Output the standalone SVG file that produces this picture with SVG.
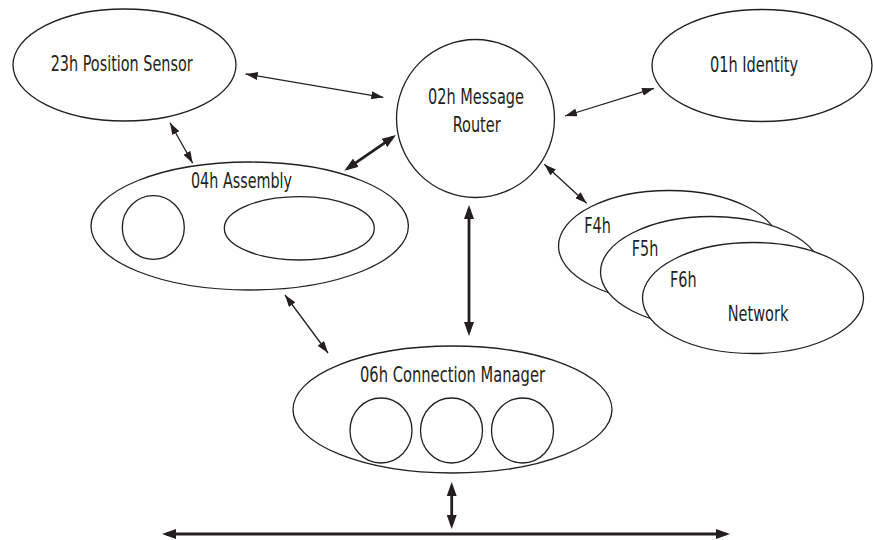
<svg xmlns="http://www.w3.org/2000/svg" width="873" height="540" viewBox="0 0 873 540">
<style>
  .shape { fill: #ffffff; stroke: #231f20; stroke-width: 1.3; }
  .lbl { font-family: "Liberation Sans Narrow", "DejaVu Sans Condensed", "Liberation Sans", sans-serif; font-size: 20.5px; fill: #231f20; }
  .thin { stroke: #231f20; stroke-width: 1.3; fill: none; marker-start: url(#ahThin); marker-end: url(#ahThin); }
  .thick { stroke: #231f20; stroke-width: 2.8; fill: none; marker-start: url(#ahThick); marker-end: url(#ahThick); }
</style>
<defs>
  <marker id="ahThin" viewBox="0 0 12 8" refX="12" refY="4" markerWidth="12" markerHeight="8" markerUnits="userSpaceOnUse" orient="auto-start-reverse">
    <path d="M0,0 L12,4 L0,8 z" fill="#231f20"/>
  </marker>
  <marker id="ahThick" viewBox="0 0 14 10" refX="10" refY="5" markerWidth="14" markerHeight="10" markerUnits="userSpaceOnUse" orient="auto-start-reverse">
    <path d="M0,0 L14,5 L0,10 z" fill="#231f20"/>
  </marker>
</defs>
<rect x="0" y="0" width="873" height="540" fill="#ffffff"/>

<g id="connectors">
  <line class="thin" x1="245.7" y1="74" x2="383.3" y2="97.3"/>
  <line class="thin" x1="170" y1="122.7" x2="192.7" y2="163.3"/>
  <line class="thick" x1="347.6" y1="168.4" x2="392.7" y2="137.3"/>
  <line class="thin" x1="565" y1="116" x2="654" y2="88.3"/>
  <line class="thin" x1="544.3" y1="164.3" x2="586.7" y2="203.3"/>
  <line class="thin" x1="285" y1="295" x2="328" y2="353"/>
  <line class="thick" x1="469" y1="209" x2="469" y2="332"/>
  <line class="thick" x1="451.7" y1="486" x2="451.7" y2="525"/>
  <line class="thick" x1="166" y1="534" x2="726" y2="534"/>
</g>

<g id="position-sensor">
  <ellipse class="shape" cx="124.5" cy="65" rx="111.5" ry="56"/>
  <text class="lbl" x="50.7" y="71" textLength="142" lengthAdjust="spacingAndGlyphs">23h Position Sensor</text>
</g>

<g id="message-router">
  <circle class="shape" cx="475.5" cy="118.5" r="79"/>
  <text class="lbl" x="428" y="104.3" textLength="96" lengthAdjust="spacingAndGlyphs">02h Message</text>
  <text class="lbl" x="452.7" y="131.7" textLength="48" lengthAdjust="spacingAndGlyphs">Router</text>
</g>

<g id="identity">
  <ellipse class="shape" cx="762" cy="65.5" rx="110" ry="56"/>
  <text class="lbl" x="710" y="71.7" textLength="88" lengthAdjust="spacingAndGlyphs">01h Identity</text>
</g>

<g id="assembly">
  <ellipse class="shape" cx="249.7" cy="226" rx="158.7" ry="64"/>
  <ellipse class="shape" cx="153.3" cy="227.5" rx="31" ry="31.8"/>
  <ellipse class="shape" cx="299.3" cy="228.3" rx="75" ry="31.7"/>
  <text class="lbl" x="191" y="188.3" textLength="101" lengthAdjust="spacingAndGlyphs">04h Assembly</text>
</g>

<g id="network-f4h">
  <ellipse class="shape" cx="669" cy="246" rx="110.5" ry="55.5"/>
  <text class="lbl" x="584.3" y="233.3" textLength="26.7" lengthAdjust="spacingAndGlyphs">F4h</text>
</g>
<g id="network-f5h">
  <ellipse class="shape" cx="711" cy="272" rx="110.5" ry="55.5"/>
  <text class="lbl" x="631.7" y="255.7" textLength="26.6" lengthAdjust="spacingAndGlyphs">F5h</text>
</g>
<g id="network-f6h">
  <ellipse class="shape" cx="753" cy="298" rx="110.5" ry="55.5"/>
  <text class="lbl" x="670" y="286.7" textLength="26.7" lengthAdjust="spacingAndGlyphs">F6h</text>
  <text class="lbl" x="727.7" y="320.7" textLength="60.6" lengthAdjust="spacingAndGlyphs">Network</text>
</g>

<g id="connection-manager">
  <ellipse class="shape" cx="452.5" cy="409.5" rx="159.5" ry="63.5"/>
  <ellipse class="shape" cx="381" cy="430.5" rx="31" ry="32.5"/>
  <ellipse class="shape" cx="451.5" cy="430.5" rx="31" ry="32.5"/>
  <ellipse class="shape" cx="522.5" cy="430.5" rx="31" ry="32.5"/>
  <text class="lbl" x="360" y="382" textLength="185" lengthAdjust="spacingAndGlyphs">06h Connection Manager</text>
</g>
</svg>
